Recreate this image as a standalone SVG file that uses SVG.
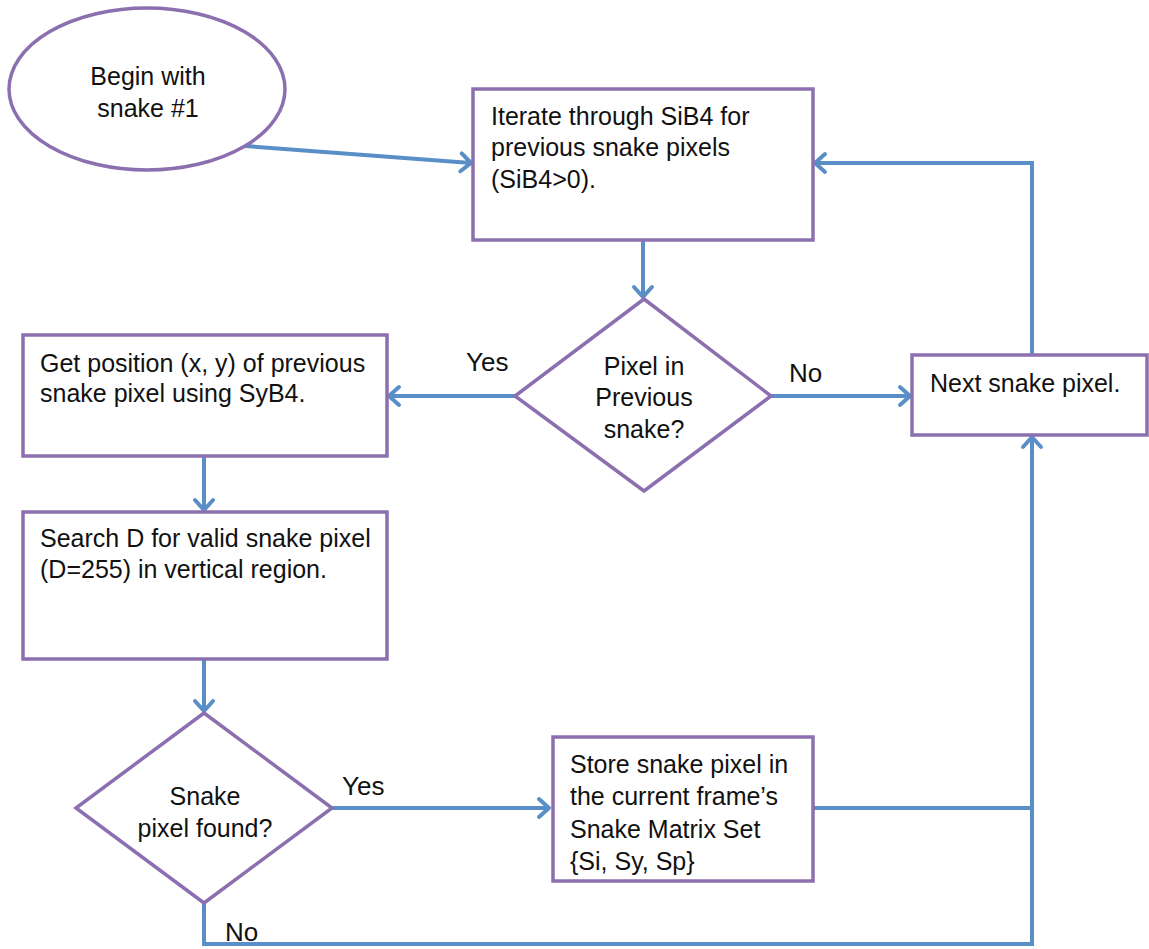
<svg xmlns="http://www.w3.org/2000/svg" width="1149" height="949" viewBox="0 0 1149 949">
  <style>
    .shape { fill: #ffffff; stroke: #8B6FAF; stroke-width: 3.5; }
    .conn { fill: none; stroke: #5A8EC6; stroke-width: 4; stroke-linejoin: miter; }
    .txt { font-family: "Liberation Sans", Arial, sans-serif; font-size: 25px; fill: #111111; }
    .mid { text-anchor: middle; }
    .lbl { font-family: "Liberation Sans", Arial, sans-serif; font-size: 26px; fill: #111111; }
  </style>
  <defs>
    <marker id="arrow" markerUnits="userSpaceOnUse" viewBox="-14 -13 18 26" markerWidth="18" markerHeight="26" refX="0" refY="0" orient="auto">
      <path d="M-10,-9 L0,0 L-10,9" fill="none" stroke="#5A8EC6" stroke-width="4" stroke-linecap="round" stroke-linejoin="round"/>
    </marker>
  </defs>
  <rect width="1149" height="949" fill="#ffffff"/>

  <!-- connectors -->
  <g id="connectors">
    <path class="conn" d="M245,146 L471,163" marker-end="url(#arrow)"/>
    <path class="conn" d="M643,240 L643,297" marker-end="url(#arrow)"/>
    <path class="conn" d="M515,396 L389,396" marker-end="url(#arrow)"/>
    <path class="conn" d="M771,396 L910,396" marker-end="url(#arrow)"/>
    <path class="conn" d="M1032,355 L1032,163 L815,163" marker-end="url(#arrow)"/>
    <path class="conn" d="M204,456 L204,510" marker-end="url(#arrow)"/>
    <path class="conn" d="M204,659 L204,711" marker-end="url(#arrow)"/>
    <path class="conn" d="M332,808 L549,808" marker-end="url(#arrow)"/>
    <path class="conn" d="M813,808 L1032,808"/>
    <path class="conn" d="M204,903 L204,944 L1032,944 L1032,437" marker-end="url(#arrow)"/>
    <text class="lbl" x="466" y="371">Yes</text>
    <text class="lbl" x="789" y="382">No</text>
    <text class="lbl" x="342" y="795">Yes</text>
    <text class="lbl" x="225" y="941">No</text>
  </g>

  <!-- start -->
  <g id="start">
    <ellipse class="shape" cx="147" cy="89" rx="138" ry="81"/>
    <text class="txt mid" x="148" y="85">Begin with</text>
    <text class="txt mid" x="148" y="117">snake #1</text>
  </g>

  <g id="iterate">
    <rect class="shape" x="473" y="89" width="340" height="151"/>
    <text class="txt" x="491" y="125">Iterate through SiB4 for</text>
    <text class="txt" x="491" y="156">previous snake pixels</text>
    <text class="txt" x="491" y="188">(SiB4&gt;0).</text>
  </g>

  <g id="in-previous">
    <polygon class="shape" points="644,299 771,396 644,491 515,396"/>
    <text class="txt mid" x="644" y="375">Pixel in</text>
    <text class="txt mid" x="644" y="406">Previous</text>
    <text class="txt mid" x="644" y="438">snake?</text>
  </g>

  <g id="next-pixel">
    <rect class="shape" x="912" y="355" width="235" height="80"/>
    <text class="txt" x="930" y="392">Next snake pixel.</text>
  </g>

  <g id="get-position">
    <rect class="shape" x="23" y="335" width="364" height="121"/>
    <text class="txt" x="40" y="372">Get position (x, y) of previous</text>
    <text class="txt" x="40" y="402">snake pixel using SyB4.</text>
  </g>

  <g id="search">
    <rect class="shape" x="23" y="512" width="364" height="147"/>
    <text class="txt" x="40" y="547">Search D for valid snake pixel</text>
    <text class="txt" x="40" y="578">(D=255) in vertical region.</text>
  </g>

  <g id="found">
    <polygon class="shape" points="204,713 332,808 204,903 76,808"/>
    <text class="txt mid" x="205" y="805">Snake</text>
    <text class="txt mid" x="205" y="837">pixel found?</text>
  </g>

  <g id="store">
    <rect class="shape" x="553" y="737" width="260" height="144"/>
    <text class="txt" x="570" y="773">Store snake pixel in</text>
    <text class="txt" x="570" y="805">the current frame’s</text>
    <text class="txt" x="570" y="838">Snake Matrix Set</text>
    <text class="txt" x="570" y="870">{Si, Sy, Sp}</text>
  </g>
</svg>
